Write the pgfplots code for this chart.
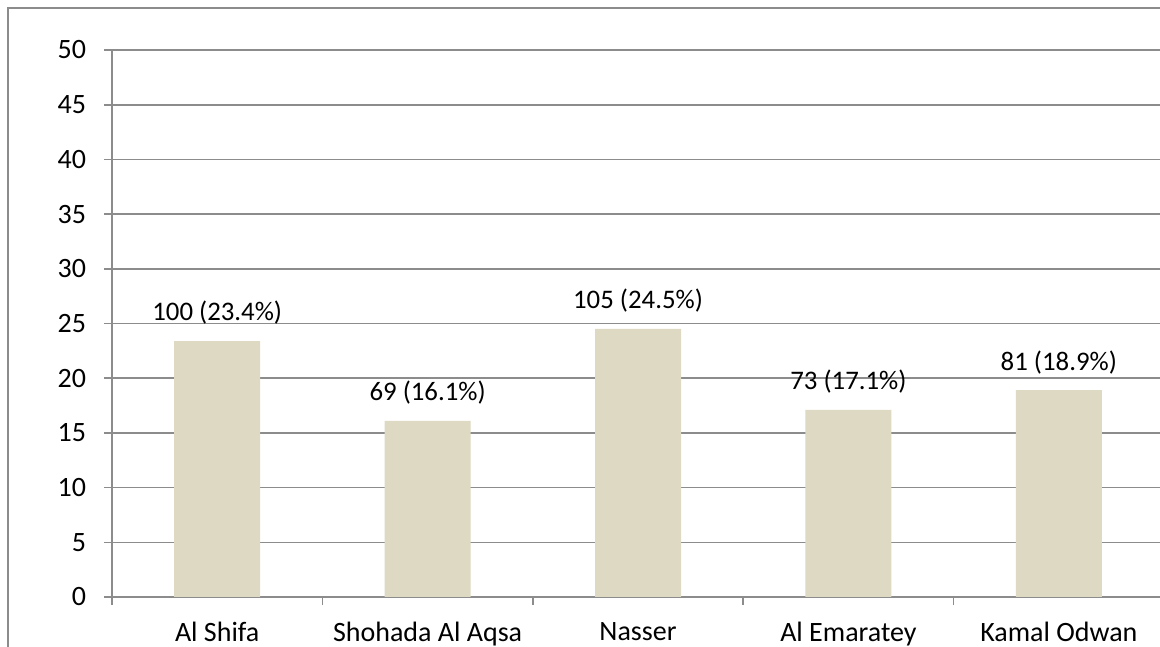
\documentclass[border=0pt]{standalone}
\usepackage{fontspec}
\setmainfont{Carlito}
\usepackage{pgfplots}
\pgfplotsset{compat=1.18}
\usepackage{pgfplotstable}
\definecolor{barc}{HTML}{DDD9C3}
\definecolor{gridc}{HTML}{8C8C8C}
\definecolor{framec}{HTML}{8C8C8C}
\pgfplotstableread[col sep=comma]{
x,y,label
0,23.4,100 (23.4\%)
1,16.1,69 (16.1\%)
2,24.5,105 (24.5\%)
3,17.1,73 (17.1\%)
4,18.9,81 (18.9\%)
}\data
\begin{document}
\begin{tikzpicture}
\useasboundingbox (0,0) rectangle (580bp,323.5bp);
\begin{axis}[
  at={(56bp,25bp)}, anchor=south west,
  scale only axis, width=526bp, height=273.5bp,
  xmin=-0.5, xmax=4.5, ymin=0, ymax=50,
  axis x line*=bottom, axis y line*=left,
  axis line style={gridc, line width=0.8bp},
  ytick={0,5,...,50},
  xtick={0,1,2,3,4},
  xticklabels={Al Shifa, Shohada Al Aqsa, Nasser, Al Emaratey, Kamal Odwan},
  minor xtick={-0.5,0.5,1.5,2.5,3.5,4.5},
  major x tick style={draw=none},
  minor x tick style={gridc, line width=0.8bp},
  minor tick length=4bp,
  major tick length=4bp,
  y tick style={gridc, line width=0.8bp},
  tick align=outside,
  ymajorgrids,
  grid style={gridc, line width=0.8bp},
  ticklabel style={font=\fontsize{14bp}{16bp}\selectfont, text=black},
  /pgf/number format/assume math mode=true,
  xticklabel style={yshift=-5bp},
  yticklabel style={xshift=-5.5bp},
  ybar, bar width=43bp,
  point meta=explicit symbolic,
  nodes near coords,
  nodes near coords style={font=\fontsize{13.4bp}{15bp}\selectfont, anchor=south, inner sep=0pt, yshift=8bp, text=black},
]
\addplot[fill=barc, draw=none, bar shift=0pt] table[x=x, y=y, meta=label] {\data};
\end{axis}
\draw[framec, line width=1bp] (4bp,-20bp) -- (4bp,319.5bp) -- (620bp,319.5bp);
\end{tikzpicture}
\end{document}
